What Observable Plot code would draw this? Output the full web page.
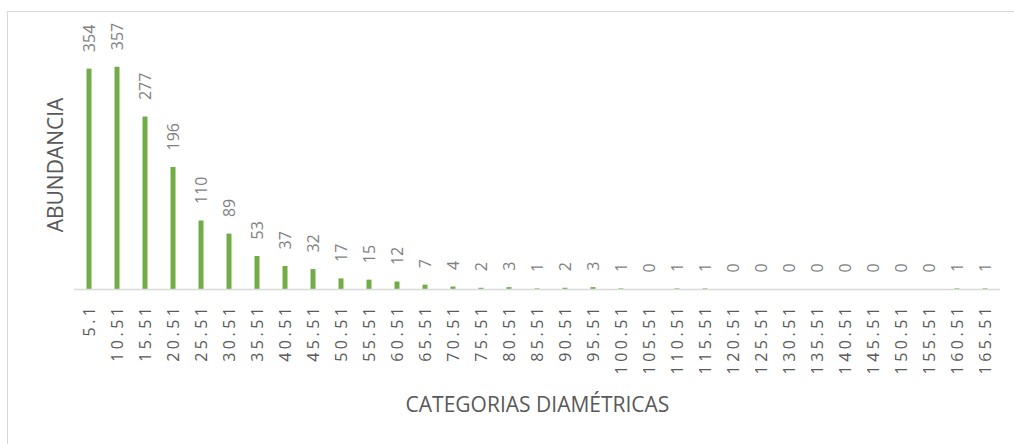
<!DOCTYPE html>
<html>
<head>
<meta charset="utf-8">
<script src="https://cdn.jsdelivr.net/npm/d3@7"></script>
<script src="https://cdn.jsdelivr.net/npm/@observablehq/plot@0.6"></script>
<style>
  html, body { margin: 0; padding: 0; background: #fff; overflow: hidden; }
  #wrap { position: relative; width: 1014px; height: 444px; overflow: hidden; }
  #border { position: absolute; left: 7px; top: 11px; width: 1100px; height: 500px; border: 1px solid #d9d9d9; pointer-events: none; }
  g[aria-label="x-axis tick label"] text { letter-spacing: 3.5px; }
  g[aria-label="value-labels"] text { letter-spacing: 2.2px; }
</style>
</head>
<body>
<div id="wrap"><div id="chart"></div><div id="border"></div></div>
<script>
const categories = ["5.1","10.51","15.51","20.51","25.51","30.51","35.51","40.51","45.51","50.51","55.51","60.51","65.51","70.51","75.51","80.51","85.51","90.51","95.51","100.51","105.51","110.51","115.51","120.51","125.51","130.51","135.51","140.51","145.51","150.51","155.51","160.51","165.51"];
const values = [354,357,277,196,110,89,53,37,32,17,15,12,7,4,2,3,1,2,3,1,0,1,1,0,0,0,0,0,0,0,0,1,1];
const xTitle = "CATEGORIAS DIAMÉTRICAS";
const yTitle = "ABUNDANCIA";

const data = categories.map((c, i) => ({cat: c, value: values[i]}));

const chart = Plot.plot({
  width: 1014,
  height: 444,
  marginLeft: 74,
  marginRight: 14,
  marginTop: 40,
  marginBottom: 155,
  style: {fontFamily: "'Open Sans', sans-serif", background: "transparent", overflow: "visible"},
  x: {type: "band", domain: categories, padding: 0},
  y: {domain: [0, 400], axis: null},
  marks: [
    Plot.barY(data, {x: "cat", y: "value", fill: "#70ad47", insetLeft: 11.5, insetRight: 11.5}),
    Plot.ruleY([0], {stroke: "#d9d9d9", strokeWidth: 1.5}),
    Plot.axisX({tickRotate: -90, tickSize: 0, tickPadding: 14, fontSize: 16, color: "#595959", label: null}),
    Plot.text(data, {x: "cat", y: "value", text: d => String(d.value), rotate: -90, textAnchor: "start", dy: -17, fontSize: 16, fill: "#7f7f7f", ariaLabel: "value-labels"}),
    Plot.text([yTitle], {frameAnchor: "left", textAnchor: "middle", lineAnchor: "middle", rotate: -90, dx: -18, fontSize: 21, fill: "#595959"}),
    Plot.text([xTitle], {frameAnchor: "bottom", textAnchor: "middle", lineAnchor: "middle", dy: 116, fontSize: 21, fill: "#595959"})
  ]
});
document.getElementById("chart").appendChild(chart);
</script>
</body>
</html>
